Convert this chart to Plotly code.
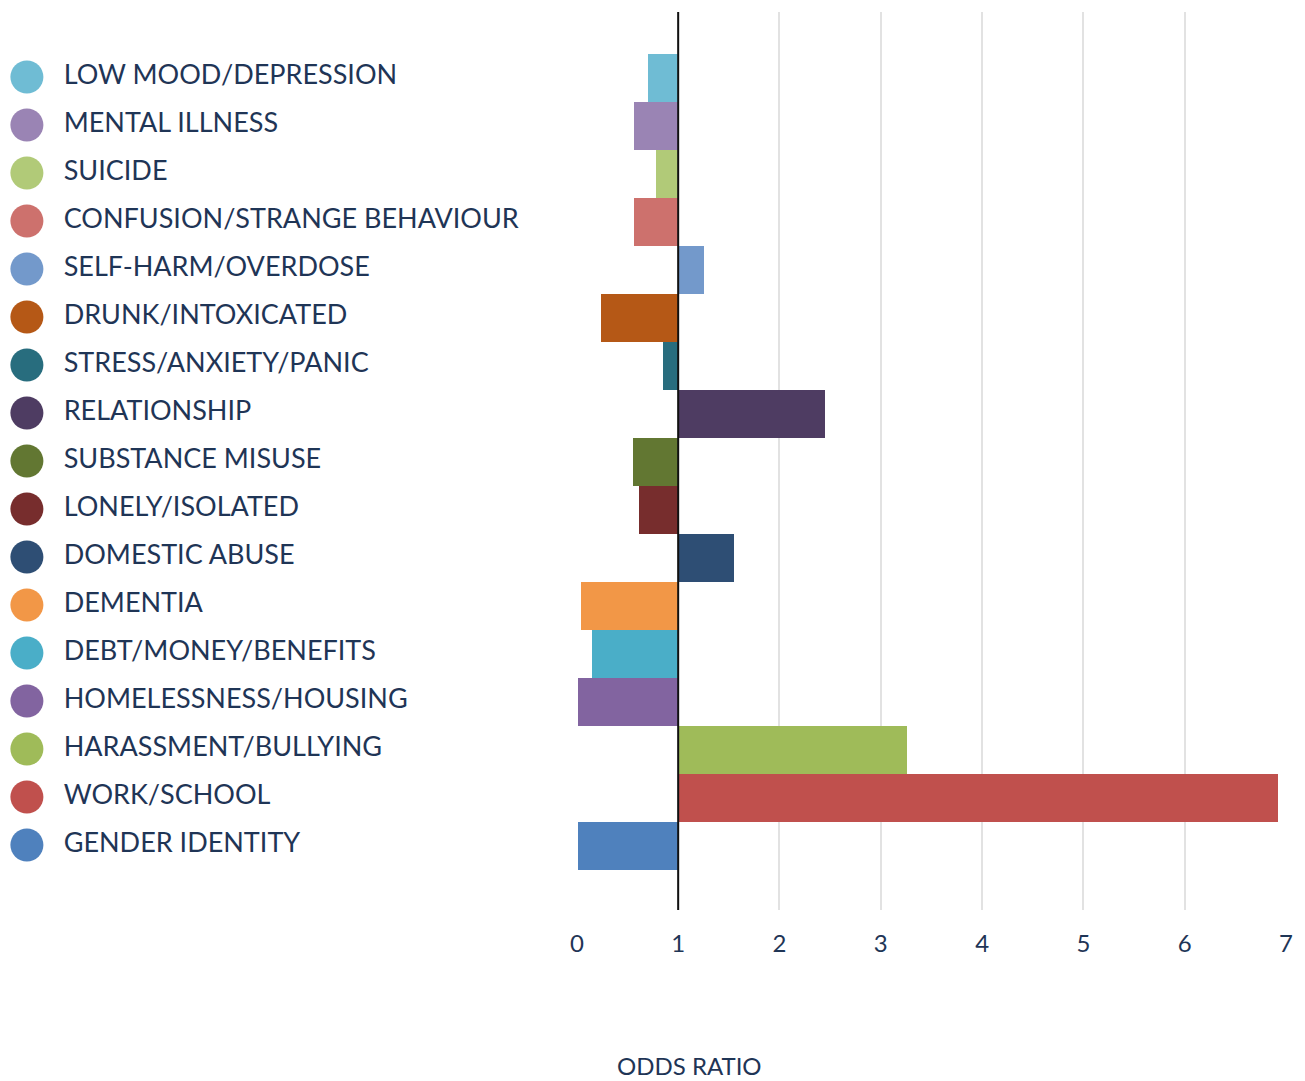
import plotly.graph_objects as go

categories = [
    "LOW MOOD/DEPRESSION", "MENTAL ILLNESS", "SUICIDE", "CONFUSION/STRANGE BEHAVIOUR",
    "SELF-HARM/OVERDOSE", "DRUNK/INTOXICATED", "STRESS/ANXIETY/PANIC", "RELATIONSHIP",
    "SUBSTANCE MISUSE", "LONELY/ISOLATED", "DOMESTIC ABUSE", "DEMENTIA",
    "DEBT/MONEY/BENEFITS", "HOMELESSNESS/HOUSING", "HARASSMENT/BULLYING",
    "WORK/SCHOOL", "GENDER IDENTITY",
]
odds_ratios = [0.70, 0.56, 0.78, 0.56, 1.25, 0.24, 0.85, 2.45, 0.55, 0.61,
               1.55, 0.04, 0.15, 0.01, 3.26, 6.92, 0.01]
colors = ["#6fbcd4", "#9a84b4", "#b1ca78", "#cd716d", "#7399cb", "#b55816",
          "#286d7e", "#4e3c62", "#627732", "#772d2d", "#2e4e74", "#f29747",
          "#4aaec8", "#8264a0", "#9fbb59", "#c0504d", "#4f81bd"]
x_ticks = [0, 1, 2, 3, 4, 5, 6, 7]
reference_value = 1

TEXT = "#1f3556"
FONT = "Lato"

W, H = 1305, 1081
ML, MR, MT, MB = 0, 19, 12, 171
PW = W - ML - MR
PH = H - MT - MB
x0_px = 573

fig = go.Figure()

fig.add_trace(go.Bar(
    y=categories,
    x=[v - reference_value for v in odds_ratios],
    base=reference_value,
    orientation="h",
    width=1,
    marker=dict(color=colors, line=dict(width=0)),
    showlegend=False,
    xaxis="x", yaxis="y",
))

# legend-like labels on a left subplot (pixel units)
fig.add_trace(go.Scatter(
    y=categories, x=[20] * len(categories), mode="markers",
    marker=dict(size=33, color=colors, line=dict(width=0)),
    showlegend=False, xaxis="x2", yaxis="y2", hoverinfo="skip",
))
fig.add_trace(go.Scatter(
    y=categories, x=[57] * len(categories), mode="text",
    text=categories, textposition="middle right",
    textfont=dict(family=FONT, size=27, color=TEXT),
    showlegend=False, xaxis="x2", yaxis="y2", hoverinfo="skip",
))

row_px = 48.0
top_pad = (54 - MT) / row_px
yr_top = -0.5 - top_pad
yr_bot = yr_top + PH / row_px
shift = 1 / row_px

left_frac = x0_px / PW
fig.update_layout(
    width=W, height=H,
    margin=dict(l=ML, r=MR, t=MT, b=MB),
    paper_bgcolor="white", plot_bgcolor="white",
    bargap=0,
    xaxis=dict(
        domain=[left_frac, 1], range=[0, 7],
        tickvals=x_ticks, ticktext=[str(t) for t in x_ticks],
        showgrid=True, gridcolor="#e2e2e2", gridwidth=2,
        zeroline=False, showline=False,
        ticks="outside", ticklen=12, tickcolor="rgba(0,0,0,0)",
        tickfont=dict(family=FONT, size=24, color=TEXT),
        fixedrange=True,
    ),
    yaxis=dict(
        type="category", categoryorder="array", categoryarray=categories,
        range=[yr_bot, yr_top], showticklabels=False, showgrid=False,
        zeroline=False, showline=False,
    ),
    xaxis2=dict(
        domain=[0, 0.42], range=[0, 0.42 * PW], visible=False,
    ),
    yaxis2=dict(
        type="category", categoryorder="array", categoryarray=categories,
        range=[yr_bot + shift, yr_top + shift], visible=False,
        anchor="x2",
    ),
    shapes=[dict(
        type="line", xref="x", yref="paper", x0=reference_value, x1=reference_value,
        y0=0, y1=1, line=dict(color="#111111", width=2), layer="above",
    )],
    annotations=[dict(
        text="ODDS RATIO", xref="paper", yref="paper",
        x=686 / PW, y=-(1065 - (MT + PH)) / PH,
        xanchor="center", yanchor="middle", showarrow=False,
        font=dict(family=FONT, size=24, color=TEXT),
    )],
)

fig.write_html(
    "out.html",
    config={"displayModeBar": False},
    post_script="document.body.style.margin='0';document.body.style.overflow='hidden';",
)
